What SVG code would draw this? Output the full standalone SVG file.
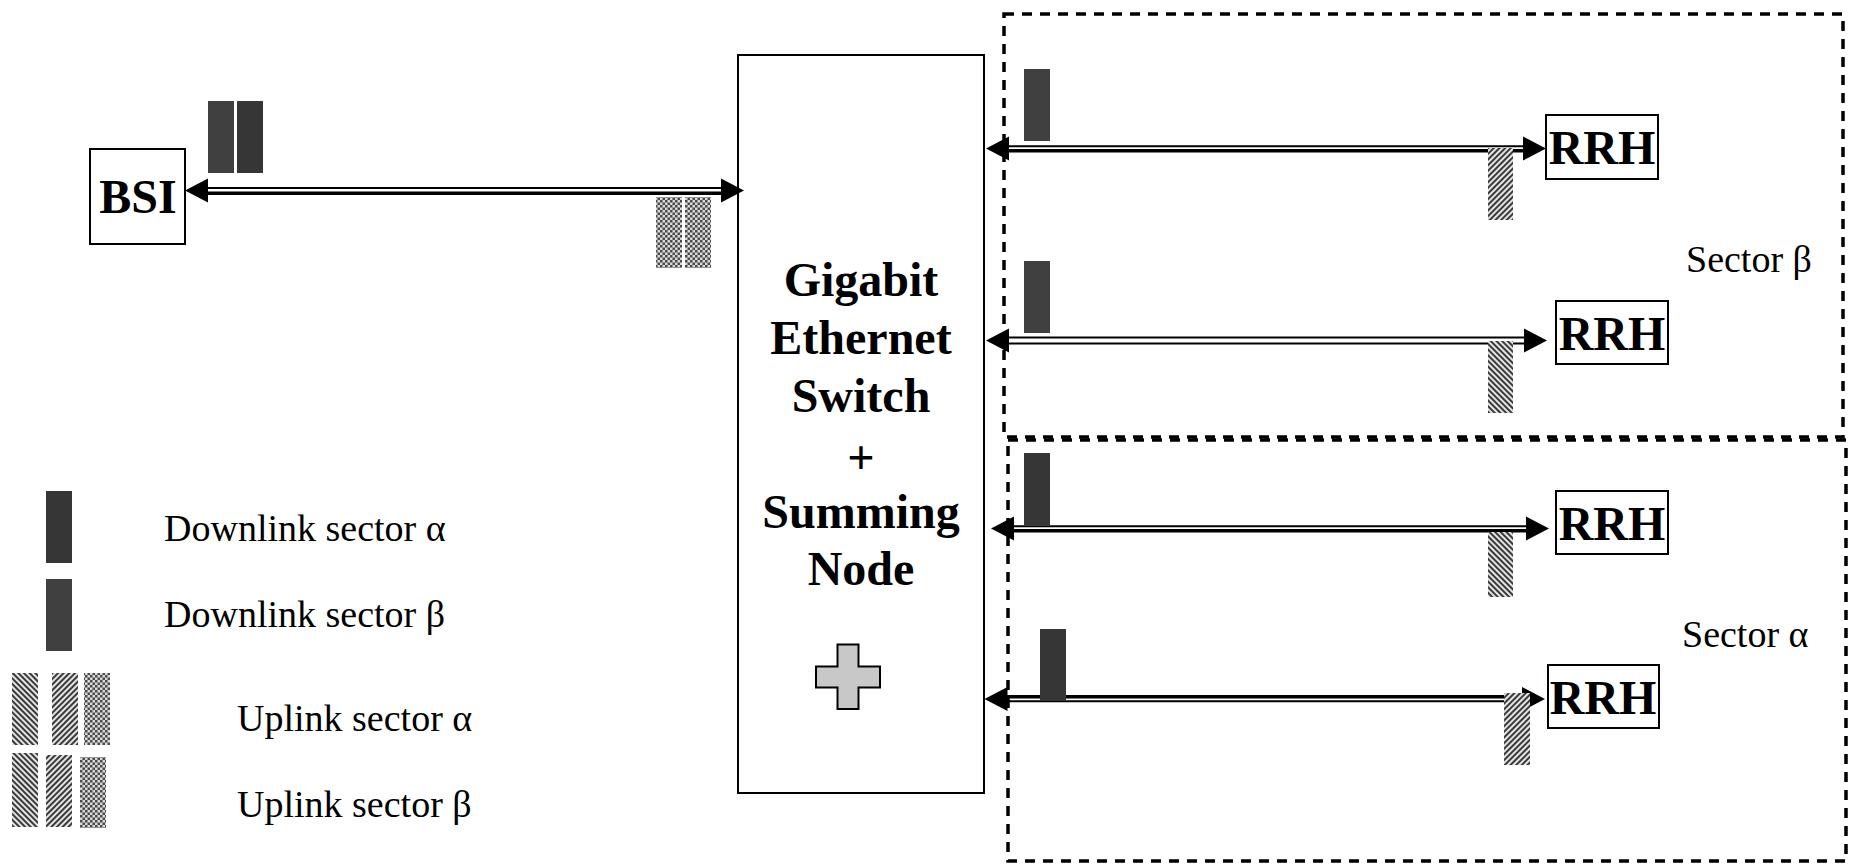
<svg xmlns="http://www.w3.org/2000/svg" xmlns:xlink="http://www.w3.org/1999/xlink" width="1851" height="865" viewBox="0 0 1851 865">
<style>
.box{fill:#fff;stroke:#000;stroke-width:2}
.sector{fill:none;stroke:#000;stroke-width:3.5;stroke-dasharray:10 8}
.big{font-family:"Liberation Serif","Times New Roman",serif;font-weight:bold;font-size:48px;text-anchor:middle;fill:#000}
.lbl{font-family:"Liberation Serif","Times New Roman",serif;font-size:38px;fill:#000}
.ln{stroke:#000;fill:none}
.dA{fill:#363636}
.dB{fill:#404040}
</style>
<defs>
<pattern id="hatchF" width="4" height="4" patternUnits="userSpaceOnUse" patternTransform="rotate(45)"><rect width="4" height="4" fill="#e4e4e4"/><rect width="2" height="4" fill="#3a3a3a"/></pattern>
<pattern id="hatchB" width="4" height="4" patternUnits="userSpaceOnUse" patternTransform="rotate(-45)"><rect width="4" height="4" fill="#e4e4e4"/><rect width="2" height="4" fill="#3a3a3a"/></pattern>
<pattern id="checker" width="5" height="5" patternUnits="userSpaceOnUse"><rect width="5" height="5" fill="#dadada"/><rect width="2.5" height="2.5" fill="#4a4a4a"/><rect x="2.5" y="2.5" width="2.5" height="2.5" fill="#4a4a4a"/></pattern>
<path id="arrowR" d="M0,0 L-23,-12 L-23,12 Z" fill="#000"/>
<path id="arrowL" d="M0,0 L23,-12 L23,12 Z" fill="#000"/>
</defs>
<rect width="1851" height="865" fill="#fff"/>

<g id="sector-beta">
<rect class="sector" x="1004" y="14" width="839" height="423"/>
<text class="lbl" x="1686" y="272">Sector β</text>
</g>
<g id="sector-alpha">
<rect class="sector" x="1008" y="440" width="838" height="421"/>
<text class="lbl" x="1682" y="647">Sector α</text>
</g>

<g id="bsi">
<rect class="box" x="90" y="149" width="95" height="95"/>
<text class="big" x="138" y="213" font-size="46">BSI</text>
</g>

<g id="switch">
<rect class="box" x="738" y="55" width="246" height="738"/>
<text class="big" x="861" y="296">Gigabit</text>
<text class="big" x="861" y="354">Ethernet</text>
<text class="big" x="861" y="412">Switch</text>
<text class="big" x="861" y="474" font-weight="normal">+</text>
<text class="big" x="861" y="528">Summing</text>
<text class="big" x="861" y="585">Node</text>
<path d="M837.5,644.5 H858.5 V666.5 H880 V687.5 H858.5 V709 H837.5 V687.5 H816 V666.5 H837.5 Z" fill="#c8c8c8" stroke="#000" stroke-width="2"/>
</g>

<g id="rrh1">
<rect class="box" x="1546" y="115" width="112" height="64"/>
<text class="big" x="1602" y="164">RRH</text>
</g>
<g id="rrh2">
<rect class="box" x="1556" y="301" width="112" height="63"/>
<text class="big" x="1612" y="350">RRH</text>
</g>
<g id="rrh3">
<rect class="box" x="1556" y="491" width="112" height="63"/>
<text class="big" x="1612" y="540">RRH</text>
</g>
<g id="rrh4">
<rect class="box" x="1548" y="665" width="111" height="63"/>
<text class="big" x="1603" y="714">RRH</text>
</g>

<g id="connectors">
<line class="ln" x1="206" y1="188" x2="724" y2="188" stroke-width="2.2"/>
<line class="ln" x1="206" y1="193.3" x2="724" y2="193.3" stroke-width="3.4"/>
<use xlink:href="#arrowL" x="185" y="190.5"/>
<use xlink:href="#arrowR" x="744" y="190.5"/>

<line class="ln" x1="1008" y1="146.2" x2="1526" y2="146.2" stroke-width="2"/>
<line class="ln" x1="1008" y1="150.7" x2="1526" y2="150.7" stroke-width="3.5"/>
<use xlink:href="#arrowL" x="986" y="148.5"/>
<use xlink:href="#arrowR" x="1546" y="148.5"/>

<line class="ln" x1="1008" y1="337.6" x2="1526" y2="337.6" stroke-width="2"/>
<line class="ln" x1="1008" y1="343.6" x2="1526" y2="343.6" stroke-width="2"/>
<use xlink:href="#arrowL" x="986" y="340.6"/>
<use xlink:href="#arrowR" x="1547" y="340.6"/>

<line class="ln" x1="1012" y1="526.2" x2="1528" y2="526.2" stroke-width="2"/>
<line class="ln" x1="1012" y1="530.7" x2="1528" y2="530.7" stroke-width="3.5"/>
<use xlink:href="#arrowL" x="991" y="528.5"/>
<use xlink:href="#arrowR" x="1549" y="528.5"/>

<line class="ln" x1="1006" y1="696.8" x2="1524" y2="696.8" stroke-width="3.5"/>
<line class="ln" x1="1006" y1="701.3" x2="1524" y2="701.3" stroke-width="2"/>
<use xlink:href="#arrowL" x="984.5" y="699"/>
<use xlink:href="#arrowR" x="1545" y="699"/>
</g>

<g id="packets">
<rect class="dB" x="208" y="101" width="26" height="72"/>
<rect class="dA" x="237" y="101" width="26" height="72"/>
<rect fill="url(#checker)" x="656" y="197" width="26" height="71"/>
<rect fill="url(#checker)" x="685" y="197" width="26" height="71"/>

<rect class="dB" x="1024" y="69" width="26" height="72"/>
<rect fill="url(#hatchF)" x="1488" y="148" width="25" height="72"/>
<rect class="dB" x="1024" y="261" width="26" height="72"/>
<rect fill="url(#hatchB)" x="1488" y="341" width="25" height="72"/>
<rect class="dA" x="1024" y="453" width="26" height="72"/>
<rect fill="url(#hatchB)" x="1488" y="532" width="25" height="65"/>
<rect class="dA" x="1040" y="629" width="26" height="72"/>
<rect fill="url(#hatchF)" x="1504" y="693" width="26" height="72"/>
</g>

<g id="legend">
<rect class="dA" x="46" y="491" width="26" height="72"/>
<text class="lbl" x="164" y="541">Downlink sector α</text>
<rect class="dB" x="46" y="579" width="26" height="72"/>
<text class="lbl" x="164" y="627">Downlink sector β</text>
<rect fill="url(#hatchB)" x="12" y="673" width="26" height="72"/>
<rect fill="url(#hatchF)" x="52" y="673" width="26" height="72"/>
<rect fill="url(#checker)" x="84" y="673" width="26" height="72"/>
<text class="lbl" x="237" y="731">Uplink sector α</text>
<rect fill="url(#hatchB)" x="12" y="753" width="26" height="74"/>
<rect fill="url(#hatchF)" x="46" y="755" width="26" height="72"/>
<rect fill="url(#checker)" x="80" y="757" width="26" height="71"/>
<text class="lbl" x="237" y="817">Uplink sector β</text>
</g>
</svg>
